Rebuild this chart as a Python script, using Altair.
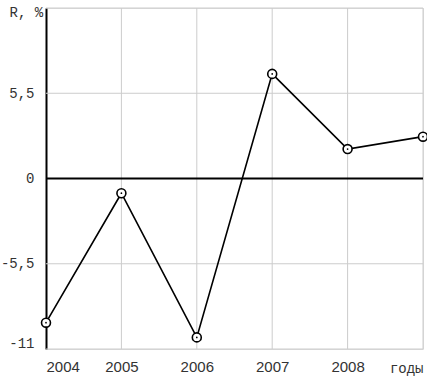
import altair as alt
import pandas as pd

years = [2004, 2005, 2006, 2007, 2008, 2009]
values = [-9.3, -0.95, -10.25, 6.75, 1.9, 2.7]
year_ticks = [2004, 2005, 2006, 2007, 2008]
y_ticks = [-11, -5.5, 0, 5.5]

df = pd.DataFrame({"year": years, "R": values})

x_scale = alt.Scale(domain=[2004, 2009], nice=False, zero=False)
y_scale = alt.Scale(domain=[-11, 11], nice=False)

x_enc = alt.X("year:Q", scale=x_scale,
              axis=alt.Axis(values=year_ticks, format="d", domain=False, ticks=False,
                            grid=False, labelFont="Liberation Sans", labelFontSize=15,
                            labelColor="#333", labelPadding=10,
                            title="годы", titleFont="Liberation Mono", titleFontSize=14,
                            titleFontWeight="normal", titleColor="#333",
                            titleX=377, titleY=19, titleAlign="right", titleBaseline="middle"))
y_enc = alt.Y("R:Q", scale=y_scale,
              axis=alt.Axis(values=y_ticks, labelExpr="replace(datum.value + '', '.', ',')",
                            labelOffset={"expr": "datum.value == -11 ? -6 : 0"},
                            domain=True, domainColor="black", domainWidth=2, ticks=False,
                            grid=False, labelFont="Liberation Mono", labelFontSize=14,
                            labelColor="#333", labelPadding=12,
                            title="R, %", titleAngle=0, titleFont="Liberation Mono",
                            titleFontSize=14, titleFontWeight="normal", titleColor="#333",
                            titleX=-37, titleY=4, titleAlign="left", titleBaseline="middle"))

grid_x = alt.Chart(pd.DataFrame({"year": [2005, 2006, 2007, 2008, 2009]})).mark_rule(
    color="#cccccc", strokeWidth=1).encode(x=alt.X("year:Q", scale=x_scale))
grid_y = alt.Chart(pd.DataFrame({"R": [-11, -5.5, 5.5, 11]})).mark_rule(
    color="#cccccc", strokeWidth=1).encode(y=alt.Y("R:Q", scale=y_scale))
zero = alt.Chart(pd.DataFrame({"R": [0]})).mark_rule(color="black", strokeWidth=2).encode(
    y=alt.Y("R:Q", scale=y_scale))

base = alt.Chart(df).encode(x=x_enc, y=y_enc)
line = base.mark_line(color="black", strokeWidth=1.6)
pts = base.mark_point(shape="circle", size=80, filled=False, fill="white", fillOpacity=1,
                      stroke="black", strokeWidth=1.6, opacity=1)
dots = base.mark_point(shape="circle", size=3, filled=True, color="black", opacity=1)

chart = alt.layer(grid_x, grid_y, zero, line, pts, dots).properties(
    width=377, height=341, autosize="none",
    padding={"left": 46, "top": 8, "right": 4, "bottom": 28}
).configure_view(stroke=None).configure(background="white")

chart.save("out.html", embed_options={"renderer": "svg", "actions": False})
